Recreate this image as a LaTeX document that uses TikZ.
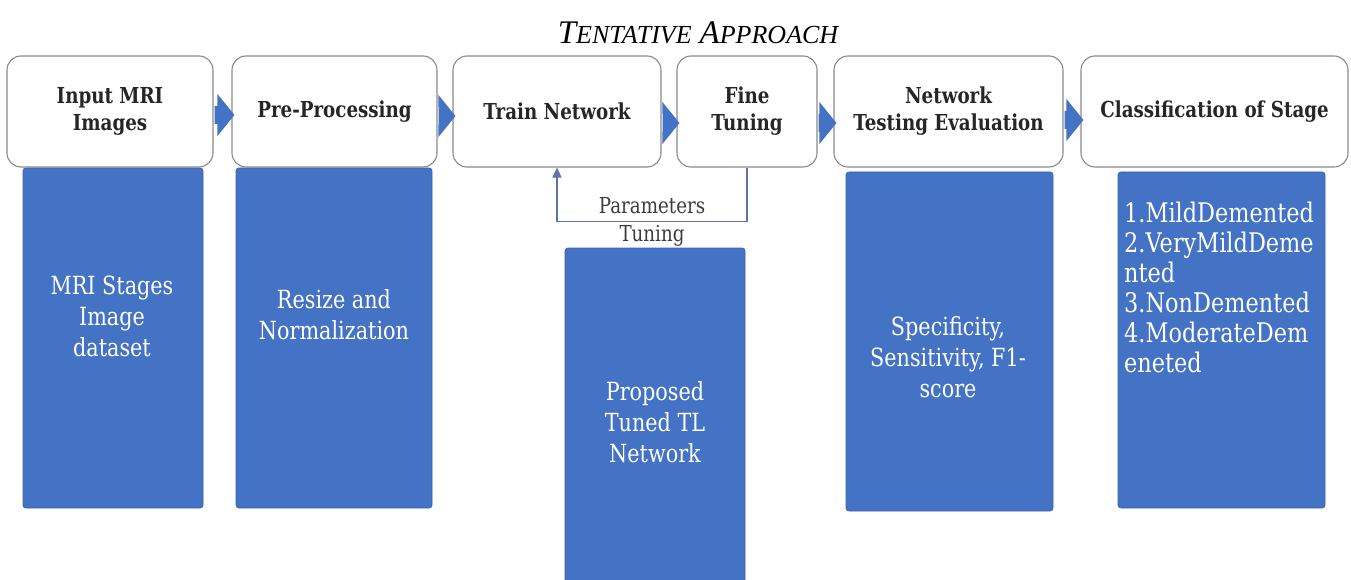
\documentclass[tikz,border=0pt]{standalone}
\usepackage{fontspec}
\setmainfont{DejaVu Serif}[FakeStretch=0.83]
\newfontfamily\titlefont{Liberation Serif}
\usetikzlibrary{calc,arrows.meta}
\definecolor{officeblue}{HTML}{4472C4}
\definecolor{blueedge}{HTML}{3E63A8}
\definecolor{boxedge}{HTML}{8A8A8A}
\definecolor{fbline}{HTML}{6373A3}
\definecolor{lbltext}{HTML}{3C3C3C}
\tikzset{
  stage/.style={draw=boxedge, line width=1.1pt, fill=white, rounded corners=14pt,
    inner sep=0pt, font=\bfseries\fontsize{22}{27}\selectfont, text=black!85, align=center},
  panel/.style={draw=blueedge, line width=0.8pt, fill=officeblue, rounded corners=3pt, inner sep=0pt},
  paneltext/.style={text=white, font=\fontsize{25}{31}\selectfont, align=center, inner sep=0pt},
  arrowfill/.style={fill=officeblue},
  fb/.style={draw=fbline, line width=1.3pt},
  lbl/.style={text=lbltext, font=\fontsize{22}{28}\selectfont, align=center, inner sep=0pt}
}
% block arrow from the east side of #1 to the west side of #2, shifted down by #3
\newcommand\blockarr[3]{%
  \fill[arrowfill] ($(#1.east)+(1,#3-9)$) -- ($(#2.west)+(-14,#3-9)$)
    -- ($(#2.west)+(-14,#3-21)$) -- ($(#2.west)+(3,#3)$)
    -- ($(#2.west)+(-14,#3+21)$) -- ($(#2.west)+(-14,#3+9)$)
    -- ($(#1.east)+(1,#3+9)$) -- cycle;}
\begin{document}
\begin{tikzpicture}[x=1pt,y=-1pt]
\useasboundingbox (0,0) rectangle (1351,580);

% title in small capitals
\node[anchor=base, inner sep=0pt, font=\titlefont\itshape] (title) at (698,44)
  {{\fontsize{33}{33}\selectfont T}{\fontsize{26}{26}\selectfont ENTATIVE}\hspace{8pt}{\fontsize{33}{33}\selectfont A}{\fontsize{26}{26}\selectfont PPROACH}};

% blue panels under the stages
\node[panel, minimum width=180pt, minimum height=340pt] (p1) at (113,338) {};
\node[panel, minimum width=196pt, minimum height=340pt] (p2) at (334,338) {};
\node[panel, minimum width=180pt, minimum height=342pt] (p3) at (655,419) {};
\node[panel, minimum width=207pt, minimum height=339pt] (p4) at (949.5,341.5) {};
\node[panel, minimum width=207pt, minimum height=336pt] (p5) at (1221.5,340) {};

\node[paneltext] (t1) at (112,316) {MRI Stages\\Image\\dataset};
\node[paneltext] (t2) at (334,315) {Resize and\\Normalization};
\node[paneltext] (t3) at (655,422) {Proposed\\Tuned TL\\Network};
\node[paneltext] (t4) at (948,357) {Specificity,\\Sensitivity, F1-\\score};
\node[paneltext, font=\fontsize{27}{30}\selectfont, align=left, anchor=west] (t5) at (1124,287)
  {1.MildDemented\\2.VeryMildDeme\\nted\\3.NonDemented\\4.ModerateDem\\eneted};

% stage boxes
\node[stage, minimum width=206pt, minimum height=111pt] (s1) at (110,111.5) {Input MRI\\Images};
\node[stage, minimum width=205pt, minimum height=111pt] (s2) at (334.5,111.5) {Pre-Processing};
\node[stage, minimum width=208pt, minimum height=111pt] (s3) at (557,111.5) {Train Network};
\node[stage, minimum width=140pt, minimum height=111pt] (s4) at (747,111.5) {Fine\\Tuning};
\node[stage, minimum width=229pt, minimum height=111pt] (s5) at (948.5,111.5) {Network\\Testing Evaluation};
\node[stage, minimum width=267pt, minimum height=111pt] (s6) at (1214.5,111.5) {Classification of Stage};

% block arrows between stages
\blockarr{s1}{s2}{3.5}
\blockarr{s2}{s3}{4.5}
\blockarr{s3}{s4}{11.5}
\blockarr{s4}{s5}{11.5}
\blockarr{s5}{s6}{8.5}

% tuning feedback loop
\draw[fb, -{Triangle[width=9pt,length=10pt]}] (s4.south) -- ++(0,54) -| (s3.south);
\node[lbl] (fbl) at (652,222) {Parameters\\Tuning};
\end{tikzpicture}
\end{document}
